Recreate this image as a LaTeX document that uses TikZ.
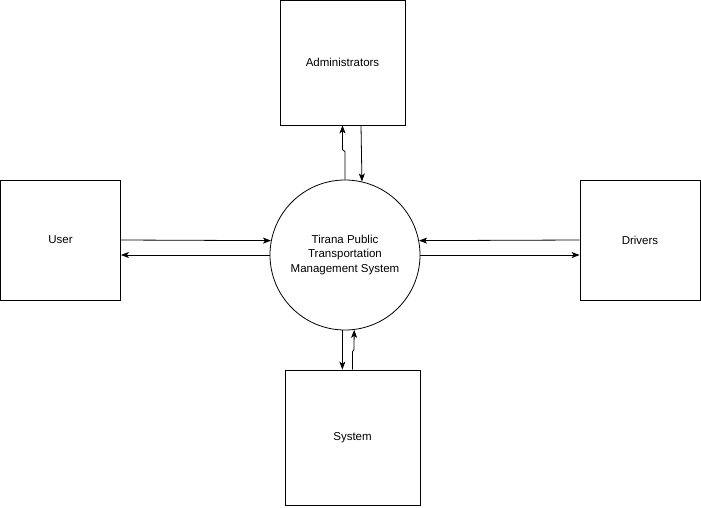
\documentclass[tikz,border=0pt]{standalone}
\usepackage{fontspec}
\setmainfont{Liberation Sans}
\usepackage{tikz}
\usetikzlibrary{arrows.meta}

\begin{document}
\begin{tikzpicture}[thick,x=1pt,y=-1pt,
  >={Stealth[length=8pt,width=6pt,inset=2pt]},
  every node/.style={font=\fontsize{11.5}{14.5}\selectfont},
  entity/.style={draw,rectangle,inner sep=0pt},
  process/.style={draw,circle,minimum size=150pt,inner sep=0pt,align=center}]
\useasboundingbox (0,0) rectangle (701,507);

%%Entities
\node[entity,minimum width=125pt,minimum height=125pt] (adm) at (342.5,62.5) {Administrators};
\node[entity,minimum width=120pt,minimum height=120pt] (user) at (60.5,240) {User};
\node[entity,minimum width=120pt,minimum height=120pt] (drv) at (640,240) {Drivers};
\node[entity,minimum width=135pt,minimum height=135pt] (sys) at (352.5,437.5) {System};

%%Process
\node[process] (tpms) at (345,255) {Tirana Public\\Transportation\\Management System};

%%Flows
\draw[->] (tpms.north) -- ++(0,-28) -- ++(-2.5,-2) -- (adm.south);
\draw[->] ([xshift=18.5pt]adm.south) -- (tpms.77.7);
\draw[->] (user.east) -- (tpms.169);
\draw[->] (tpms.west) -- ([yshift=-15pt]user.east);
\draw[->] (drv.west) -- (tpms.11.3);
\draw[->] (tpms.east) -- ([yshift=-15pt]drv.west);
\draw[->] (tpms.268) -- (tpms.268 |- sys.north);
\draw[->] (sys.north) -- ++(0,-18) -- ++(1.5,-2) -- (tpms.-83);
\end{tikzpicture}
\end{document}
